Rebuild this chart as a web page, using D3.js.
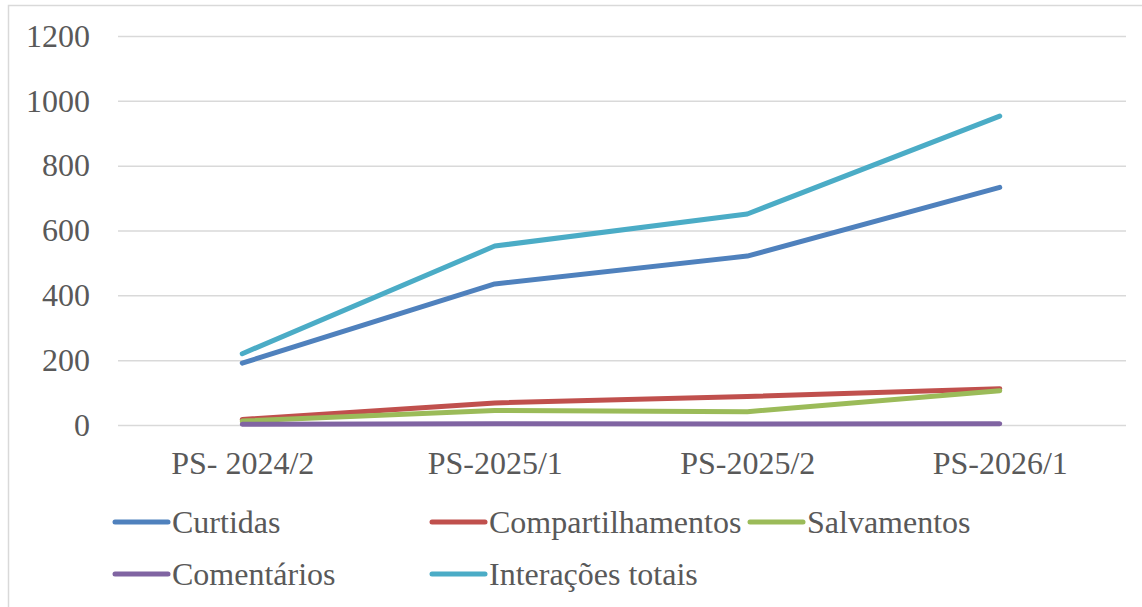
<!DOCTYPE html>
<html>
<head>
<meta charset="utf-8">
<script src="https://cdn.jsdelivr.net/npm/d3@7"></script>
<style>
  html, body { margin: 0; padding: 0; background: #fff; }
  #chart { width: 1142px; height: 607px; }
  #chart text { font-family: "Liberation Serif", "Times New Roman", Times, "DejaVu Serif", serif; }
</style>
</head>
<body>
<div id="chart"></div>
<script>
// data
const categories = ["PS- 2024/2", "PS-2025/1", "PS-2025/2", "PS-2026/1"];
const curtidas = [191, 435, 521, 733];
const compartilhamentos = [17, 68, 88, 112];
const salvamentos = [12, 45, 41, 106];
const comentarios = [2, 4, 3, 4];
const interacoes = [220, 552, 651, 953];
const yTicks = [0, 200, 400, 600, 800, 1000, 1200];

const series = [
    { name: "Curtidas", values: curtidas, color: "#4F81BD" },
    { name: "Compartilhamentos", values: compartilhamentos, color: "#C0504D" },
    { name: "Salvamentos", values: salvamentos, color: "#9BBB59" },
    { name: "Comentários", values: comentarios, color: "#8064A2" },
    { name: "Interações totais", values: interacoes, color: "#4BACC6" }
];

const width = 1142, height = 607;
const margin = { left: 116, right: 16, top: 36, bottom: 182 };
const textColor = "#595959";

const svg = d3.select("#chart").append("svg")
    .attr("width", width)
    .attr("height", height);

// chart area border (only top and left edges show in frame)
svg.append("rect")
    .attr("x", 8.5).attr("y", 5.5)
    .attr("width", width).attr("height", height)
    .attr("fill", "none")
    .attr("stroke", "#d9d9d9")
    .attr("stroke-width", 1.5);

const x = d3.scalePoint()
    .domain(categories)
    .range([margin.left, width - margin.right])
    .padding(0.5);

const y = d3.scaleLinear()
    .domain([0, 1200])
    .range([height - margin.bottom, margin.top]);

// gridlines + y labels
const yAxis = svg.append("g")
    .attr("transform", `translate(${margin.left + 2},0)`)
    .call(d3.axisLeft(y).tickValues(yTicks)
        .tickSize(-(width - margin.right - margin.left - 2))
        .tickPadding(28)
        .tickFormat(d3.format("d")));
yAxis.attr("font-family", null);
yAxis.select(".domain").remove();
yAxis.selectAll(".tick line")
    .attr("stroke", "#d9d9d9")
    .attr("stroke-width", 1.5);
yAxis.selectAll(".tick text")
    .attr("fill", textColor)
    .style("font-size", "32px");

// x labels
const xAxis = svg.append("g")
    .attr("transform", `translate(0,${height - margin.bottom})`)
    .call(d3.axisBottom(x).tickSize(0).tickPadding(26));
xAxis.attr("font-family", null);
xAxis.select(".domain").remove();
xAxis.selectAll(".tick text")
    .attr("fill", textColor)
    .style("font-size", "32px");

// lines
const line = d3.line()
    .x((d, i) => x(categories[i]))
    .y(d => y(d));

svg.append("g")
    .selectAll("path")
    .data(series)
    .join("path")
    .attr("d", d => line(d.values))
    .attr("fill", "none")
    .attr("stroke", d => d.color)
    .attr("stroke-width", 5)
    .attr("stroke-linecap", "round")
    .attr("stroke-linejoin", "round");

// legend
const legendCols = [113, 430, 748];
const legendRows = [522, 574];
const legend = svg.append("g")
    .selectAll("g")
    .data(series)
    .join("g")
    .attr("transform", (d, i) => `translate(${legendCols[i % 3]},${legendRows[Math.floor(i / 3)]})`);

legend.append("line")
    .attr("x1", 2).attr("x2", 55)
    .attr("stroke", d => d.color)
    .attr("stroke-width", 5)
    .attr("stroke-linecap", "round");

legend.append("text")
    .attr("x", 59)
    .attr("dy", "0.35em")
    .attr("fill", textColor)
    .style("font-size", "32px")
    .text(d => d.name);
</script>
</body>
</html>
